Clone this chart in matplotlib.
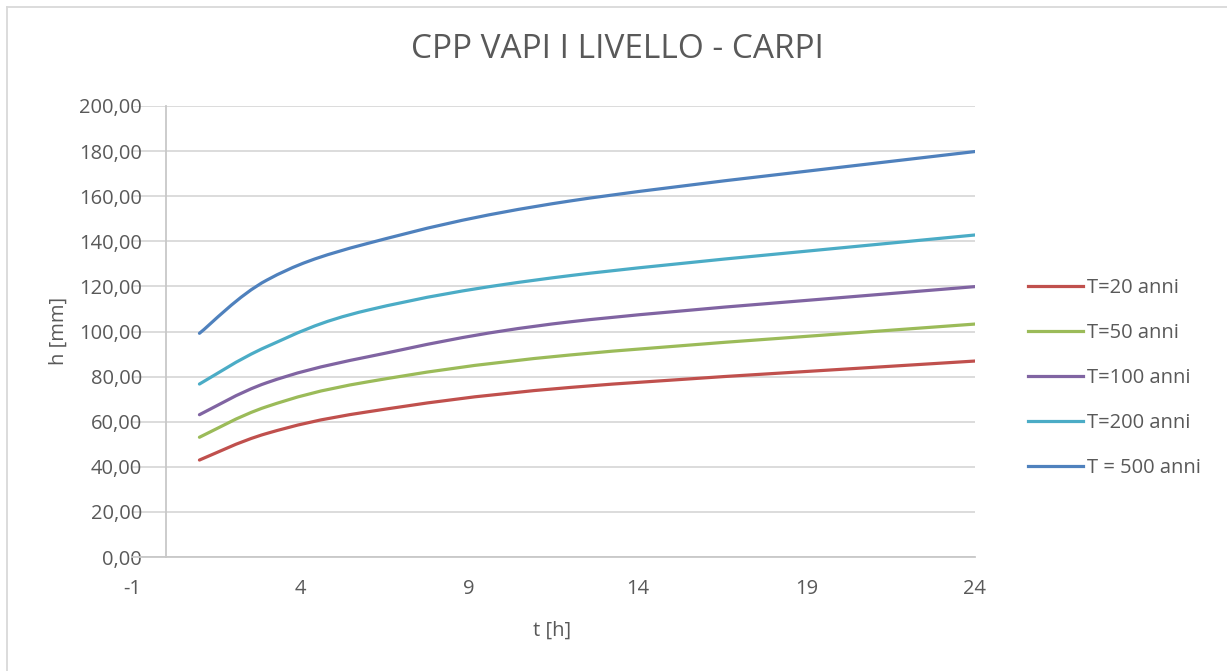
import numpy as np
import matplotlib
matplotlib.use("Agg")
import matplotlib.pyplot as plt
from matplotlib.path import Path
from matplotlib.patches import PathPatch
from matplotlib.lines import Line2D

plt.rcParams['font.family'] = ['Open Sans', 'DejaVu Sans']
plt.rcParams['axes.unicode_minus'] = False

# durations (hours) and rainfall depths (mm)
t_hours = [1, 3, 6, 12, 24]
h_T20 = [43.0, 54.8, 64.4, 75.2, 86.9]
h_T50 = [53.1, 66.7, 77.7, 89.6, 103.3]
h_T100 = [63.1, 77.3, 88.8, 104.3, 119.9]
h_T200 = [76.7, 93.3, 109.5, 124.8, 142.8]
h_T500 = [99.2, 122.8, 139.1, 157.9, 179.8]

labels = ['T=20 anni', 'T=50 anni', 'T=100 anni', 'T=200 anni', 'T = 500 anni']
colors = ['#c0504d', '#9bbb59', '#8064a2', '#4bacc6', '#4f81bd']
series = [h_T20, h_T50, h_T100, h_T200, h_T500]

xticks = [-1, 4, 9, 14, 19, 24]
yticks = np.arange(0, 201, 20)

txt = '#595959'


def smooth_path(x, y):
    # excel-like smoothed line: cubic bezier through the points
    p = np.column_stack([x, y]).astype(float)
    n = len(p)
    verts = [p[0]]
    codes = [Path.MOVETO]
    for i in range(n - 1):
        p0 = p[i - 1] if i > 0 else p[i]
        p3 = p[i + 2] if i + 2 < n else p[i + 1]
        c1 = p[i] + (p[i + 1] - p0) / 6
        c2 = p[i + 1] - (p3 - p[i]) / 6
        verts += [c1, c2, p[i + 1]]
        codes += [Path.CURVE4] * 3
    return Path(verts, codes)


fig = plt.figure(figsize=(12.27, 6.71), dpi=100)
ax = fig.add_axes([132 / 1227, 114 / 671, 843 / 1227, 451 / 671])

for vals, c in zip(series, colors):
    patch = PathPatch(smooth_path(t_hours, vals), facecolor='none', edgecolor=c,
                      lw=2.3, capstyle='round', joinstyle='round', zorder=3)
    ax.add_patch(patch)

ax.set_xlim(-1, 24)
ax.set_ylim(0, 200)
ax.set_xticks(xticks)
ax.set_yticks(yticks)
ax.set_yticklabels([f'{v:.2f}'.replace('.', ',') for v in yticks])
ax.yaxis.grid(True, color='#d9d9d9', lw=1.3)
ax.set_axisbelow(True)

for s in ['top', 'right']:
    ax.spines[s].set_visible(False)
ax.spines['left'].set_position(('data', 0))
ax.spines['left'].set_color('#c8c8c8')
ax.spines['left'].set_linewidth(1.3)
ax.spines['bottom'].set_color('#c8c8c8')
ax.spines['bottom'].set_linewidth(1.3)
ax.tick_params(axis='both', length=0, labelsize=14.5, labelcolor=txt)
ax.tick_params(axis='y', pad=17)
ax.tick_params(axis='x', pad=16)

fig.text(617 / 1227, 1 - 50 / 671, 'CPP VAPI I LIVELLO - CARPI', ha='center', va='center',
         fontsize=24, color=txt)
fig.text(59 / 1227, 1 - 331 / 671, 'h [mm]', rotation=90, ha='center', va='center',
         fontsize=14.5, color=txt)
fig.text(552 / 1227, 1 - 631 / 671, 't [h]', ha='center', va='center',
         fontsize=14.5, color=txt)

handles = [Line2D([], [], color=c, lw=2.3) for c in colors]
fig.legend(handles, labels, loc='center left', bbox_to_anchor=(1010 / 1227, 1 - 378 / 671),
           frameon=False, fontsize=14.5, labelcolor=txt, handlelength=2.7,
           handletextpad=0.2, labelspacing=1.25)

# chart area border (left and top edges only visible)
fig.add_artist(Line2D([7 / 1227, 7 / 1227], [0, 1 - 7 / 671], color='#d9d9d9', lw=1.3))
fig.add_artist(Line2D([7 / 1227, 1], [1 - 7 / 671, 1 - 7 / 671], color='#d9d9d9', lw=1.3))

fig.savefig('out.png', dpi=100)
